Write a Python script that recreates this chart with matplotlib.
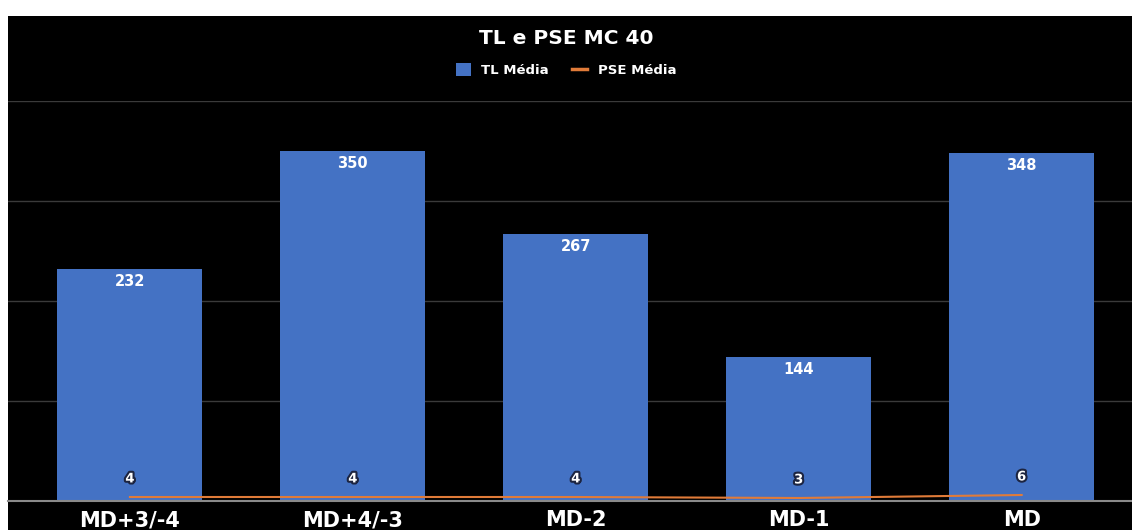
import matplotlib.pyplot as plt
import matplotlib.patheffects as pe
from matplotlib.patches import Rectangle
from matplotlib.lines import Line2D
from matplotlib.patches import Patch

plt.rcParams['font.family'] = ['DejaVu Sans']

categories = ["MD+3/-4", "MD+4/-3", "MD-2", "MD-1", "MD"]
tl_media = [232, 350, 267, 144, 348]
pse_media = [4, 4, 4, 3, 6]

bar_color = "#4472c4"
line_color = "#e07b39"

W, H = 1132, 530
fig = plt.figure(figsize=(W / 100, H / 100), dpi=100)
fig.patch.set_facecolor("white")
# black chart canvas with a thin white margin on the top and left
fig.patches.append(Rectangle((8 / W, 0), 1 - 8 / W, (H - 16) / H,
                             transform=fig.transFigure, facecolor="black",
                             edgecolor="none", zorder=-10))

ax = fig.add_axes([8 / W, (H - 501) / H, 1 - 8 / W, 400 / H])
ax.set_facecolor("black")
x = list(range(len(categories)))
ax.bar(x, tl_media, width=0.65, color=bar_color, zorder=2)
ax.plot(x, pse_media, color=line_color, lw=1.5, zorder=3)

ax.set_ylim(0, 400)
ax.set_xlim(-0.547, 4.495)
ax.set_yticks([0, 100, 200, 300, 400])
ax.yaxis.grid(True, color="#3a3a3a", lw=1)
ax.set_axisbelow(True)
ax.tick_params(axis="y", left=False, labelleft=False)
ax.tick_params(axis="x", bottom=False, colors="white", pad=3)
ax.set_xticks(x)
ax.set_xticklabels(categories, fontsize=15, fontweight="bold", color="white")
for s in ["top", "right", "left"]:
    ax.spines[s].set_visible(False)
ax.spines["bottom"].set_color("#8a8a8a")
ax.spines["bottom"].set_linewidth(1.5)

for xi, v in zip(x, tl_media):
    ax.annotate(str(v), (xi, v), xytext=(0, -9), textcoords="offset points",
                ha="center", va="center", fontsize=10.5, fontweight="bold",
                color="white", zorder=4)

for xi, v in zip(x, pse_media):
    ax.annotate(str(v), (xi, v), xytext=(0, 13), textcoords="offset points",
                ha="center", va="center", fontsize=9.5, fontweight="bold",
                color="white", zorder=4,
                path_effects=[pe.withStroke(linewidth=3, foreground="#1c2440")])

fig.text(0.5, (H - 38) / H, "TL e PSE MC 40", ha="center", va="center",
         fontsize=14.5, fontweight="bold", color="white")

handles = [Patch(facecolor=bar_color, edgecolor="none"),
           Line2D([0], [0], color=line_color, lw=2.5)]
fig.legend(handles, ["TL Média", "PSE Média"], loc="center",
           bbox_to_anchor=(0.5, (H - 70) / H), ncol=2, frameon=False,
           labelcolor="white", handlelength=1.1,
           handleheight=1.1, columnspacing=1.8, handletextpad=0.8,
           prop={"weight": "bold", "size": 9.5})

fig.savefig("out.png", dpi=100, facecolor=fig.get_facecolor())
